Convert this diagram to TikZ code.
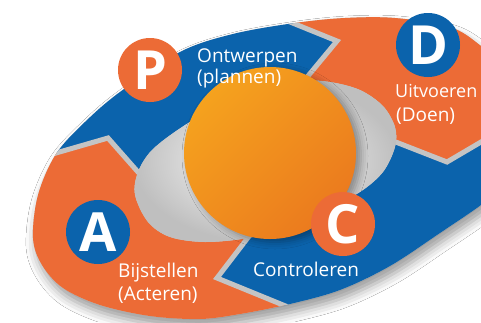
\documentclass[tikz,border=0pt]{standalone}
\usepackage{fontspec}
\setmainfont{Open Sans}
\usetikzlibrary{shadows.blur}
\definecolor{ringblue}{RGB}{11,99,172}
\definecolor{ringorange}{RGB}{236,107,54}
\definecolor{balllight}{RGB}{245,162,30}
\definecolor{balldark}{RGB}{235,122,30}
\definecolor{gapgrey}{RGB}{196,196,196}
\tikzset{
  ltr/.style={circle, minimum size=64pt, inner sep=0pt, text=white,
    font=\fontsize{54}{54}\selectfont\bfseries, text height=38.5pt, text depth=0pt},
  lbl/.style={anchor=base west, inner sep=0pt, text=white,
    font=\fontsize{19}{23}\selectfont},
  gapline/.style={draw=gapgrey, line width=5pt, line join=miter},
}
\newcommand\outerP{plot[smooth cycle, tension=0.55] coordinates {
  (33,238) (38,195) (56,154) (85,122) (120,92) (180,52) (233,34) (295,23)
  (345,18) (395,18) (450,27) (481,46) (512,75) (528,115) (522,155) (500,188)
  (481,205) (440,233) (390,266) (340,290) (290,304) (240,314) (200,319)
  (150,316) (100,305) (63,288) (42,265)}}
\newcommand\innerP{plot[smooth cycle, tension=0.55] coordinates {
  (135,195) (138,172) (152,150) (182,127) (220,105) (260,90) (300,81)
  (330,82) (360,90) (383,106) (395,127) (395,147) (383,172) (360,192)
  (325,210) (285,227) (248,238) (205,242) (170,237) (148,222)}}
\begin{document}
\begin{tikzpicture}[x=1pt, y=-1pt]
\useasboundingbox (0,0) rectangle (481,322);
\clip (0,0) rectangle (481,322);
\fill[white] (0,0) rectangle (481,322);
% centre and chevron cuts (inner end, tip, outer end)
\coordinate (C0) at (266,160);
\coordinate (I1) at (279,111); \coordinate (T1) at (337,41); \coordinate (O1) at (253,7);
\coordinate (I2) at (365,130); \coordinate (T2) at (447,162); \coordinate (O2) at (549,102);
\coordinate (I3) at (263,218); \coordinate (T3) at (217,278); \coordinate (O3) at (359,336);
\coordinate (I4) at (160,197); \coordinate (T4) at (108,138); \coordinate (O4) at (4,168);
% ring base with shadow
\fill[gapgrey, blur shadow={shadow xshift=3pt, shadow yshift=-8pt,
  shadow blur radius=10pt, shadow opacity=40}] \outerP;
% segments
\begin{scope}
\clip (C0) -- (I4) -- (T4) -- (O4) -- (-100,168) -- (-100,-100) -- (253,-100) -- (O1) -- (T1) -- (I1) -- cycle;
\fill[ringblue, even odd rule] \outerP \innerP;
\end{scope}
\begin{scope}
\clip (C0) -- (I1) -- (T1) -- (O1) -- (253,-100) -- (600,-100) -- (600,102) -- (O2) -- (T2) -- (I2) -- cycle;
\fill[ringorange, even odd rule] \outerP \innerP;
\end{scope}
\begin{scope}
\clip (C0) -- (I2) -- (T2) -- (O2) -- (600,102) -- (600,400) -- (359,400) -- (O3) -- (T3) -- (I3) -- cycle;
\fill[ringblue, even odd rule] \outerP \innerP;
\end{scope}
\begin{scope}
\clip (C0) -- (I3) -- (T3) -- (O3) -- (359,400) -- (-100,400) -- (-100,168) -- (O4) -- (T4) -- (I4) -- cycle;
\fill[ringorange, even odd rule] \outerP \innerP;
\end{scope}
% gaps between the arrows
\begin{scope}
\clip \outerP;
\draw[gapline] (I1) -- (T1) -- (O1);
\draw[gapline] (I2) -- (T2) -- (O2);
\draw[gapline] (I3) -- (T3) -- (O3);
\draw[gapline] (I4) -- (T4) -- (O4);
\end{scope}
% hole
\shade[inner color=white, outer color=gray!50] \innerP;
% ball
\shade[top color=balllight, bottom color=balldark, shading angle=45,
  blur shadow={shadow xshift=5pt, shadow yshift=-3pt, shadow blur radius=7pt, shadow opacity=35}]
  (270,153) circle[radius=86];
% letter circles
\node[ltr, fill=ringorange] (P) at (150,70) {P};
\node[ltr, fill=ringblue] (D) at (428,45) {D};
\node[ltr, fill=ringblue] (A) at (98,232) {A};
\node[ltr, fill=ringorange] (C) at (343,224) {C};
% labels
\node[lbl] (p1) at (197,62) {Ontwerpen};
\node[lbl] (p2) at (197,83) {(plannen)};
\node[lbl, font=\fontsize{18}{22}\selectfont] (d1) at (395,97) {Uitvoeren};
\node[lbl] (d2) at (396,121) {(Doen)};
\node[lbl] (a1) at (118,277) {Bijstellen};
\node[lbl] (a2) at (118,300) {(Acteren)};
\node[lbl] (c1) at (253,276) {Controleren};
\end{tikzpicture}
\end{document}
